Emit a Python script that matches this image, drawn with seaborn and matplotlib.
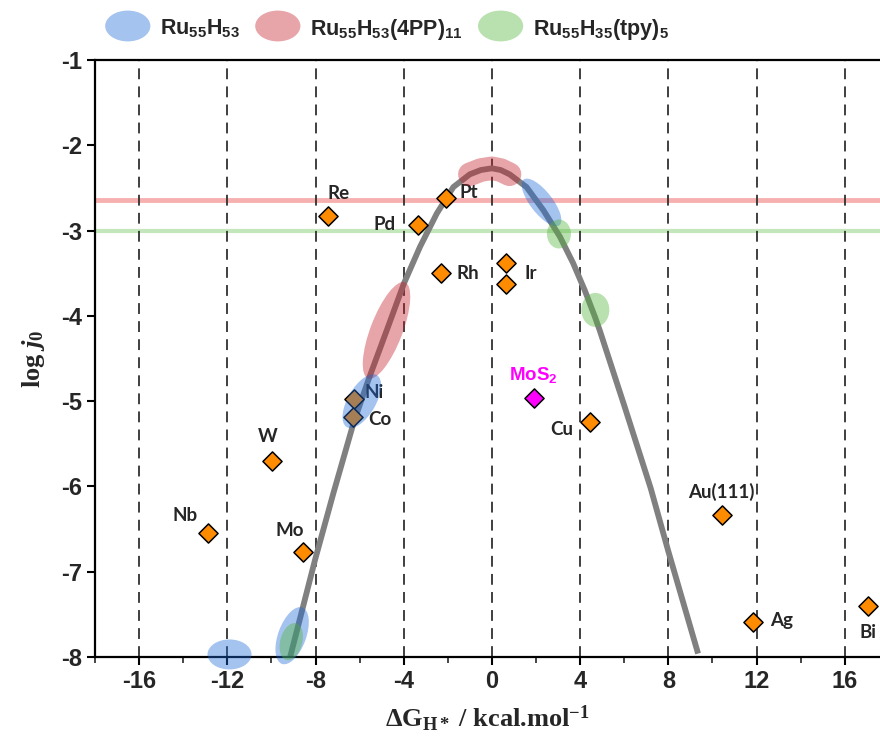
import numpy as np
import pandas as pd
import seaborn as sns
import matplotlib.pyplot as plt
import matplotlib.patches as mpatches
import matplotlib.transforms as mtransforms
from matplotlib.legend_handler import HandlerPatch
from matplotlib.ticker import MultipleLocator

# volcano curve
curve_dg = [-9.15, -8.02, -7.19, -6.28, -5.6, -4.77, -3.99, -3.26, -2.5, -1.75, -1.0, -0.5, 0.0,
            0.4, 0.8, 1.57, 2.33, 3.08, 3.68, 4.21, 4.67, 4.89, 6.0, 7.2, 8.0, 9.35]
curve_logj = [-8.0, -6.86, -6.08, -5.26, -4.75, -4.17, -3.62, -3.19, -2.80, -2.49, -2.34, -2.29, -2.27,
              -2.29, -2.34, -2.49, -2.76, -3.07, -3.38, -3.70, -4.01, -4.17, -5.05, -6.02, -6.76, -7.96]

# metals
metal_names = ['Re', 'Pd', 'Pt', 'Rh', 'Ir', '', 'Ni', 'Co', 'W', 'Nb', 'Mo', 'Cu', 'Au(111)', 'Ag', 'Bi']
metal_dg = [-7.42, -3.37, -2.1, -2.31, 0.63, 0.63, -6.25, -6.28, -9.97, -12.87, -8.55, 4.44, 10.42, 11.83, 17.04]
metal_logj = [-2.83, -2.93, -2.62, -3.50, -3.38, -3.63, -4.98, -5.19, -5.70, -6.55, -6.77, -5.24, -6.33, -7.59, -7.40]

mos2_dg = [1.9]
mos2_logj = [-4.96]

# reference levels of the clusters
red_level = -2.64
green_level = -3.01

# highlight ellipses (centres in data units)
ell_dg = [-11.9, -9.06, -9.1, -4.78, -5.9, 2.25, 3.04, 4.69]
ell_logj = [-7.97, -7.75, -7.82, -4.17, -5.0, -2.67, -3.04, -3.93]
ell_kind = ['blue', 'blue', 'green', 'red', 'blue', 'blue', 'green', 'green']

legend_labels = [r'$\mathbf{Ru_{55}H_{53}}$', r'$\mathbf{Ru_{55}H_{53}(4PP)_{11}}$',
                 r'$\mathbf{Ru_{55}H_{35}(tpy)_5}$']

# ---- styling ----
colors = {'blue': (30/255, 105/255, 217/255), 'red': (197/255, 30/255, 42/255),
          'green': (80/255, 180/255, 55/255)}
ell_alpha = 0.4
# ellipse sizes in pixels: width, height, angle
ell_geom = [(44, 30, 0), (60, 28, 70), (38, 22, 75), (103, 32, 69), (60, 28, 60),
            (58, 22, -52), (24, 29, 0), (28, 34, 0)]
# label placement in pixels (dx, dy down) and alignment
label_pos = {'Re': (10, -23, 'center'), 'Pd': (-22, 0, 'right'), 'Pt': (14, -6, 'left'),
             'Rh': (16, 0, 'left'), 'Ir': (19, 11, 'left'), 'Ni': (10, -7, 'left'),
             'Co': (15, 2, 'left'), 'W': (-4, -24, 'center'), 'Nb': (-23, -18, 'center'),
             'Mo': (-14, -22, 'center'), 'Cu': (-28, 8, 'center'), 'Au(111)': (0, -23, 'center'),
             'Ag': (17, -2, 'left'), 'Bi': (0, 27, 'center')}

sns.set_style('ticks')
plt.rcParams['mathtext.fontset'] = 'custom'
plt.rcParams['mathtext.rm'] = 'Liberation Serif:bold'
plt.rcParams['mathtext.it'] = 'Liberation Serif:italic:bold'
plt.rcParams['mathtext.bf'] = 'Liberation Sans:bold'
plt.rcParams['axes.unicode_minus'] = False
plt.rcParams['font.weight'] = 'bold'
plt.rcParams['font.family'] = ['Liberation Sans', 'DejaVu Sans']

fig = plt.figure(figsize=(8.8, 7.45), dpi=100)
ax = fig.add_axes([95/880, 1 - 657/745, 1 - 95/880, 597/745])

ax.set_xlim(-18, 17.6)
ax.set_ylim(-8, -1)

for xv in range(-16, 17, 4):
    ax.axvline(xv, color='#303030', lw=1.3, dashes=(6, 4), zorder=1.5)
ax.axhline(red_level, color='#f7b0b0', lw=3.5, zorder=1)
ax.axhline(green_level, color='#c3e6bb', lw=3, zorder=1)

curve = pd.DataFrame({'dg': curve_dg, 'logj': curve_logj})
sns.lineplot(data=curve, x='dg', y='logj', color='#808080', lw=4.2, sort=False,
             ax=ax, zorder=2, solid_joinstyle='round', solid_capstyle='butt')

# thick red band along the top of the volcano
peak = curve.iloc[10:15]
ax.plot(peak['dg'], peak['logj'], color=colors['red'], alpha=ell_alpha, lw=17,
        solid_capstyle='round', solid_joinstyle='round', zorder=4)

metals = pd.DataFrame({'name': metal_names, 'dg': metal_dg, 'logj': metal_logj})
sns.scatterplot(data=metals, x='dg', y='logj', marker='D', s=95, color='#ff8c00',
                edgecolor='black', linewidth=1.1, ax=ax, zorder=3, clip_on=False)
sns.scatterplot(x=mos2_dg, y=mos2_logj, marker='D', s=95, color='#ff00ff',
                edgecolor='black', linewidth=1.1, ax=ax, zorder=3)

for _, row in metals.iterrows():
    if row['name'] == '':
        continue
    dx, dy, ha = label_pos[row['name']]
    ax.annotate(row['name'], (row['dg'], row['logj']), xytext=(dx * 0.72, -dy * 0.72),
                textcoords='offset points', ha=ha, va='center', fontsize=13.5,
                fontfamily='Lato', fontweight='bold', zorder=3)
ax.annotate(r'$\mathbf{MoS_2}$', (mos2_dg[0], mos2_logj[0]), xytext=(0, 23 * 0.72),
            textcoords='offset points', ha='center', va='center', fontsize=13.5,
            color='#ff00ff')

for cx, cy, kind, (w, h, ang) in zip(ell_dg, ell_logj, ell_kind, ell_geom):
    trans = fig.dpi_scale_trans + mtransforms.ScaledTranslation(cx, cy, ax.transData)
    e = mpatches.Ellipse((0, 0), w / 100, h / 100, angle=ang, transform=trans,
                         facecolor=colors[kind], alpha=ell_alpha, edgecolor='none',
                         zorder=4, clip_on=False)
    ax.add_patch(e)

# axes
ax.xaxis.set_major_locator(MultipleLocator(4))
ax.xaxis.set_minor_locator(MultipleLocator(2))
ax.yaxis.set_major_locator(MultipleLocator(1))
ax.tick_params(axis='both', which='major', direction='out', length=6, width=1.5,
               labelsize=17, color='black')
ax.tick_params(axis='x', which='minor', direction='out', length=4, width=1.2)
for side in ['left', 'bottom', 'top']:
    ax.spines[side].set_linewidth(1.6)
    ax.spines[side].set_color('black')
ax.spines['right'].set_visible(False)

ax.set_xlabel(r'ΔG$_{\mathrm{H*}}$ / kcal.mol$^{\mathrm{-1}}$', fontsize=19, labelpad=8,
              fontfamily='Liberation Serif', fontweight='bold')
ax.set_ylabel(r'log $j_{\mathrm{0}}$', fontsize=19, labelpad=10,
              fontfamily='Liberation Serif', fontweight='bold')


class HandlerEllipse(HandlerPatch):
    def create_artists(self, legend, orig_handle, xdescent, ydescent, width, height,
                       fontsize, trans):
        center = 0.5 * width - 0.5 * xdescent, 0.5 * height - 0.5 * ydescent
        p = mpatches.Ellipse(xy=center, width=width, height=height * 1.6)
        self.update_prop(p, orig_handle, legend)
        p.set_transform(trans)
        return [p]


handles = [mpatches.Ellipse((0, 0), 1, 1, facecolor=colors[k], alpha=ell_alpha, edgecolor='none')
           for k in ['blue', 'red', 'green']]
fig.legend(handles, legend_labels, loc='center', bbox_to_anchor=(387 / 880, 1 - 29 / 745),
           ncol=3, frameon=False, fontsize=15.5, handlelength=2.1, handleheight=1.0,
           handletextpad=0.45, columnspacing=0.7,
           handler_map={mpatches.Ellipse: HandlerEllipse()})

fig.savefig('out.png', dpi=100)
